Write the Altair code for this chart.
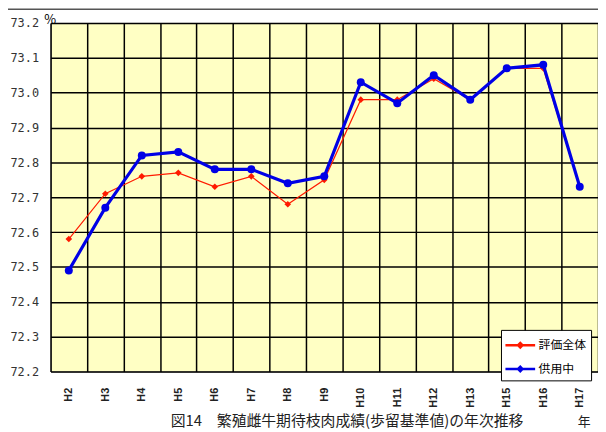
import altair as alt
import pandas as pd

# 年次（H14 は無し）
years = ["H2", "H3", "H4", "H5", "H6", "H7", "H8", "H9", "H10", "H11",
         "H12", "H13", "H15", "H16", "H17"]
# 歩留基準値 (%)
hyoka = [72.58, 72.71, 72.76, 72.77, 72.73, 72.76, 72.68, 72.75, 72.98, 72.98,
         73.04, 72.98, 73.07, 73.07, 72.73]
kyoyo = [72.49, 72.67, 72.82, 72.83, 72.78, 72.78, 72.74, 72.76, 73.03, 72.97,
         73.05, 72.98, 73.07, 73.08, 72.73]
series = ["評価全体", "供用中"]
colors = ["#ff1a00", "#0000e6"]
y_ticks = [72.2, 72.3, 72.4, 72.5, 72.6, 72.7, 72.8, 72.9, 73.0, 73.1, 73.2]
caption = "図14　繁殖雌牛期待枝肉成績(歩留基準値)の年次推移"
unit_x = "年"

df = pd.DataFrame({
    "year": years * 2,
    "value": hyoka + kyoyo,
    "series": [series[0]] * len(years) + [series[1]] * len(years),
})

font = "Noto Sans CJK JP"

x = alt.X("year:N", sort=years,
          scale=alt.Scale(type="band", paddingInner=0, paddingOuter=0),
          axis=alt.Axis(labelAngle=270, labelFont="Liberation Sans", labelFontSize=11,
                        labelFontWeight="bold", labelColor="#222", labelPadding=16,
                        ticks=False, domain=False, grid=True, gridColor="black",
                        gridWidth=1.5, tickBand="extent",
                        title=caption, titleAngle=0, titleX=299, titleY=50,
                        titleAlign="center", titleBaseline="middle",
                        titleFont=font, titleFontSize=15, titleFontWeight="normal",
                        titleColor="#222"))
y = alt.Y("value:Q",
          scale=alt.Scale(domain=[72.2, 73.2], nice=False, zero=False),
          axis=alt.Axis(values=y_ticks, format=".1f", labelAlign="left",
                        labelPadding=41, labelFont="DejaVu Sans Mono", labelFontSize=12,
                        labelColor="#333", ticks=False, domain=False, grid=True,
                        gridColor="black", gridWidth=1.5,
                        title="%", titleAngle=0, titleX=-1, titleY=-3,
                        titleAlign="center", titleBaseline="middle",
                        titleFont=font, titleFontSize=13, titleFontWeight="normal"))
color = alt.Color("series:N",
                  scale=alt.Scale(domain=series, range=colors),
                  legend=alt.Legend(title=None, orient="none", legendX=455, legendY=310,
                                    fillColor="white", strokeColor="black", padding=4,
                                    labelFont=font, labelFontSize=12, labelColor="black",
                                    symbolType="M-1.5,0H1.5M-0.22,0L0,-0.22L0.22,0L0,0.22Z",
                                    symbolSize=400, symbolStrokeWidth=2.5,
                                    symbolOffset=4, labelOffset=7, rowPadding=5))

base = alt.Chart(df).encode(x=x, y=y, color=color)

frame = alt.Chart(alt.Data(values=[{}])).mark_rect(
    fill=None, stroke="#555", strokeWidth=1.5, clip=False
).encode(x=alt.value(-47), x2=alt.value(560), y=alt.value(-14), y2=alt.value(430))

year_unit = alt.Chart(alt.Data(values=[{"t": unit_x}])).mark_text(
    font=font, fontSize=13, color="#222", baseline="middle", align="center"
).encode(text="t:N", x=alt.value(539), y=alt.value(403))

red_line = base.transform_filter(alt.datum.series == series[0]).mark_line(strokeWidth=1.2)
red_pts = base.transform_filter(alt.datum.series == series[0]).mark_point(
    shape="diamond", filled=True, size=45, opacity=1)
blue_line = base.transform_filter(alt.datum.series == series[1]).mark_line(strokeWidth=3.2)
blue_pts = base.transform_filter(alt.datum.series == series[1]).mark_point(
    shape="circle", filled=True, size=65, opacity=1)

chart = alt.layer(frame, red_line, red_pts, blue_line, blue_pts, year_unit).properties(
    width=553, height=352,
    autosize=alt.AutoSizeParams(type="none"),
    padding={"left": 43, "top": 13, "right": 0, "bottom": 59},
    background="white",
).configure_view(
    fill="#ffffc4", stroke="#808080", strokeWidth=1
)

chart.save("out.html", embed_options={"renderer": "svg", "actions": False})
